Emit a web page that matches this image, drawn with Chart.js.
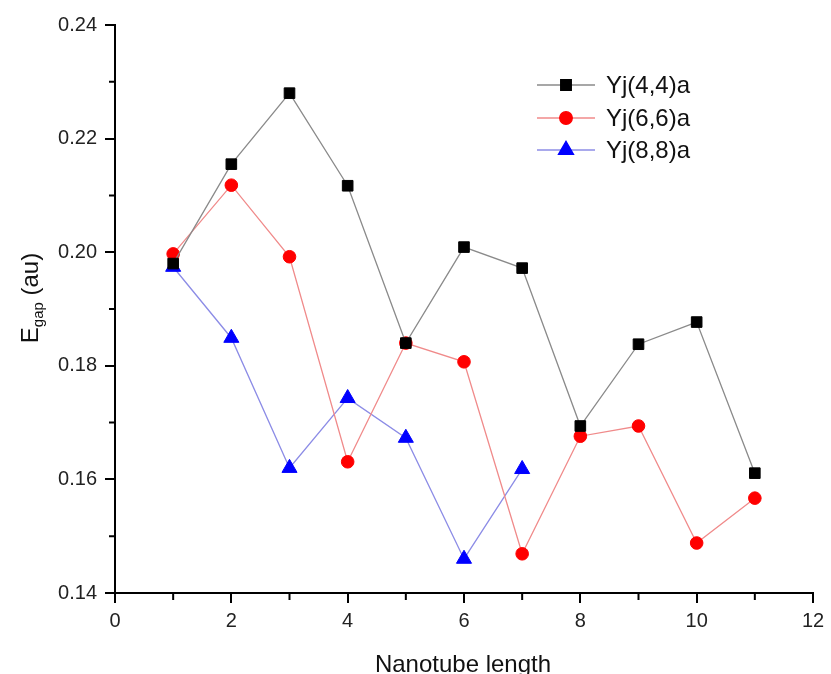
<!DOCTYPE html>
<html>
<head>
<meta charset="utf-8">
<script src="https://cdn.jsdelivr.net/npm/chart.js@4"></script>
<style>
  body { margin: 0; background: #fff; }
</style>
</head>
<body>
<canvas id="gapChart" width="831" height="674"></canvas>
<script>
const longitudes = [1, 2, 3, 4, 5, 6, 7, 8, 9, 10, 11];
const yj44 = [0.1980, 0.2155, 0.2280, 0.2117, 0.1840, 0.2009, 0.1972, 0.1694, 0.1838, 0.1877, 0.1611];
const yj66 = [0.1997, 0.2118, 0.1992, 0.1631, 0.1840, 0.1807, 0.1469, 0.1676, 0.1694, 0.1488, 0.1567];
const yj88 = [0.1974, 0.1849, 0.1620, 0.1743, 0.1673, 0.1460, 0.1618];
const nombres = ['Yj(4,4)a', 'Yj(6,6)a', 'Yj(8,8)a'];
const xTicks = [0, 2, 4, 6, 8, 10, 12];
const yTicks = [0.14, 0.16, 0.18, 0.20, 0.22, 0.24];

const puntos = (vals) => vals.map((v, i) => ({ x: longitudes[i], y: v }));
const fuente = 'Arial, "Liberation Sans", sans-serif';

// ticks menores, leyenda y titulos
const extras = {
    id: 'extras',
    afterDraw(chart) {
        const ctx = chart.ctx;
        const xs = chart.scales.x, ys = chart.scales.y;
        const area = chart.chartArea;
        ctx.save();
        ctx.strokeStyle = '#000';
        ctx.lineWidth = 2;
        ctx.beginPath();
        for (let i = 0; i < xTicks.length - 1; i++) {
            const px = xs.getPixelForValue((xTicks[i] + xTicks[i + 1]) / 2);
            ctx.moveTo(px, area.bottom);
            ctx.lineTo(px, area.bottom + 7);
        }
        for (let i = 0; i < yTicks.length - 1; i++) {
            const py = ys.getPixelForValue((yTicks[i] + yTicks[i + 1]) / 2);
            ctx.moveTo(area.left, py);
            ctx.lineTo(area.left - 6, py);
        }
        ctx.stroke();

        // leyenda
        const filas = [85, 118, 150];
        chart.data.datasets.forEach((ds, i) => {
            const y = filas[i];
            ctx.strokeStyle = ds.borderColor;
            ctx.lineWidth = 1.3;
            ctx.beginPath();
            ctx.moveTo(537, y);
            ctx.lineTo(595, y);
            ctx.stroke();
            ctx.fillStyle = ds.pointBackgroundColor;
            ctx.strokeStyle = ds.pointBackgroundColor;
            Chart.helpers.drawPoint(ctx, { pointStyle: ds.pointStyle, radius: ds.pointRadius, borderWidth: 1, rotation: 0 }, 566, y);
            ctx.fillStyle = '#111';
            ctx.font = '24px ' + fuente;
            ctx.textBaseline = 'middle';
            ctx.textAlign = 'left';
            ctx.fillText(ds.label, 606, y + 1);
        });

        // titulo eje x
        ctx.fillStyle = '#111';
        ctx.font = '24px ' + fuente;
        ctx.textAlign = 'center';
        ctx.textBaseline = 'alphabetic';
        ctx.fillText('Nanotube length', 463, 672);

        // titulo eje y con subindice
        ctx.translate(38, 298);
        ctx.rotate(-Math.PI / 2);
        ctx.font = '24px ' + fuente;
        const wE = ctx.measureText('E').width;
        const wAu = ctx.measureText(' (au)').width;
        ctx.font = '15px ' + fuente;
        const wSub = ctx.measureText('gap').width;
        let x0 = -(wE + wSub + wAu) / 2;
        ctx.textAlign = 'left';
        ctx.font = '24px ' + fuente;
        ctx.fillText('E', x0, 0);
        ctx.font = '15px ' + fuente;
        ctx.fillText('gap', x0 + wE, 5);
        ctx.font = '24px ' + fuente;
        ctx.fillText(' (au)', x0 + wE + wSub, 0);
        ctx.restore();
    }
};

new Chart(document.getElementById('gapChart'), {
    type: 'line',
    data: {
        datasets: [{
            label: nombres[0],
            data: puntos(yj44),
            borderColor: '#8a8a8a',
            borderWidth: 1.3,
            pointStyle: 'rect',
            pointRadius: 7.5,
            pointBackgroundColor: '#000',
            pointBorderColor: '#000',
            pointBorderWidth: 1
        }, {
            label: nombres[1],
            data: puntos(yj66),
            borderColor: '#f08a8a',
            borderWidth: 1.3,
            pointStyle: 'circle',
            pointRadius: 6.3,
            pointBackgroundColor: '#ff0000',
            pointBorderColor: '#ff0000',
            pointBorderWidth: 1
        }, {
            label: nombres[2],
            data: puntos(yj88),
            borderColor: '#8c8ce6',
            borderWidth: 1.3,
            pointStyle: 'triangle',
            pointRadius: 8.7,
            pointBackgroundColor: '#0000ff',
            pointBorderColor: '#0000ff',
            pointBorderWidth: 1
        }]
    },
    options: {
        responsive: false,
        animation: false,
        layout: { padding: { top: 25, right: 18, left: 0, bottom: 0 } },
        plugins: {
            legend: { display: false },
            tooltip: { enabled: false }
        },
        scales: {
            x: {
                type: 'linear',
                min: 0,
                max: 12,
                afterFit: s => { s.height = 81; },
                afterBuildTicks: s => { s.ticks = xTicks.map(v => ({ value: v })); },
                ticks: { color: '#222', font: { size: 20, family: fuente }, padding: 6, maxRotation: 0 },
                grid: { drawOnChartArea: false, tickLength: 10, color: '#000', lineWidth: 2 },
                border: { color: '#000', width: 2 }
            },
            y: {
                min: 0.14,
                max: 0.24,
                afterFit: s => { s.width = 115; },
                afterBuildTicks: s => { s.ticks = yTicks.map(v => ({ value: v })); },
                ticks: { color: '#222', font: { size: 20, family: fuente }, padding: 8, callback: v => v.toFixed(2) },
                grid: { drawOnChartArea: false, tickLength: 10, color: '#000', lineWidth: 2 },
                border: { color: '#000', width: 2 }
            }
        }
    },
    plugins: [extras]
});
</script>
</body>
</html>
